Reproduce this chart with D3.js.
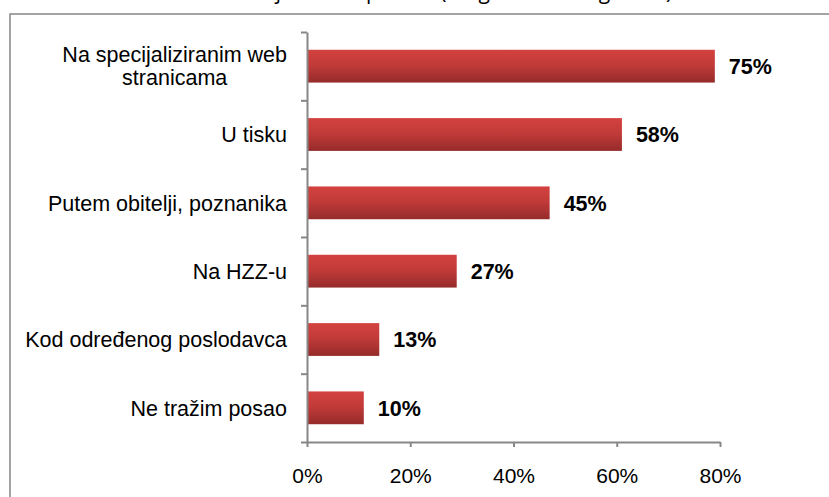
<!DOCTYPE html>
<html>
<head>
<meta charset="utf-8">
<script src="https://cdn.jsdelivr.net/npm/d3@7"></script>
<style>
  body { margin: 0; background: #fff; }
  svg { display: block; font-family: "Liberation Sans", Arial, sans-serif; }
</style>
</head>
<body>
<div id="chart"></div>
<script>
// Data
const categories = [
    ["Na specijaliziranim web", "stranicama"],
    ["U tisku"],
    ["Putem obitelji, poznanika"],
    ["Na HZZ-u"],
    ["Kod određenog poslodavca"],
    ["Ne tražim posao"]
];
// bar lengths as drawn against the axis
const barValues = [79, 61, 47, 29, 14, 11];
// data labels as printed
const labelValues = ["75%", "58%", "45%", "27%", "13%", "10%"];
const xTicks = [0, 20, 40, 60, 80];
const title = "Gdje tražite posao? (moguće više odgovora)";

function drawChart() {
    const W = 829, H = 497;
    const margin = { top: 32, left: 307, right: 109, bottom: 55 };
    const height = H - margin.top - margin.bottom;

    const svg = d3.select("#chart")
        .append("svg")
        .attr("width", W)
        .attr("height", H);

    // gradient for bars
    const grad = svg.append("defs").append("linearGradient")
        .attr("id", "barGrad")
        .attr("x1", 0).attr("y1", 0).attr("x2", 0).attr("y2", 1);
    grad.append("stop").attr("offset", "0%").attr("stop-color", "#d3423f");
    grad.append("stop").attr("offset", "45%").attr("stop-color", "#c23b39");
    grad.append("stop").attr("offset", "100%").attr("stop-color", "#952b2a");

    // Title (cut off at the top edge, as in the original)
    svg.append("text")
        .attr("x", 460)
        .attr("y", -1)
        .attr("text-anchor", "middle")
        .style("font-family", "'Open Sans', sans-serif")
        .style("font-size", "21px")
        .style("fill", "#000")
        .text(title);

    // Outer frame
    svg.append("rect")
        .attr("x", 10)
        .attr("y", 14)
        .attr("width", W)
        .attr("height", H)
        .attr("fill", "none")
        .attr("stroke", "#878787")
        .attr("stroke-width", 1.5);

    const g = svg.append("g")
        .attr("transform", `translate(${margin.left},${margin.top})`);

    const x = d3.scaleLinear()
        .domain([0, 80])
        .range([0, 413]);

    const y = d3.scaleBand()
        .domain(d3.range(categories.length))
        .range([0, height])
        .paddingInner(0.52)
        .paddingOuter(0.26);

    // bars
    g.selectAll("rect.bar")
        .data(barValues)
        .join("rect")
        .attr("class", "bar")
        .attr("x", 0)
        .attr("y", (d, i) => y(i))
        .attr("width", d => x(d))
        .attr("height", y.bandwidth())
        .attr("fill", "url(#barGrad)");

    // data labels
    g.selectAll("text.val")
        .data(barValues)
        .join("text")
        .attr("class", "val")
        .attr("x", d => x(d) + 14)
        .attr("y", (d, i) => y(i) + y.bandwidth() / 2)
        .attr("dy", "0.36em")
        .style("font-size", "21.5px")
        .style("font-weight", "bold")
        .style("fill", "#000")
        .text((d, i) => labelValues[i]);

    // X axis
    const xAxis = g.append("g")
        .attr("transform", `translate(0,${height})`)
        .call(d3.axisBottom(x).tickValues(xTicks).tickFormat(d => d + "%").tickSize(5).tickSizeOuter(0).tickPadding(21));
    xAxis.select(".domain").attr("stroke", "#878787").attr("stroke-width", 2);
    xAxis.selectAll(".tick line").attr("stroke", "#878787").attr("stroke-width", 2);
    xAxis.selectAll(".tick text")
        .style("font-size", "21px")
        .style("font-family", "'Liberation Sans', Arial, sans-serif")
        .attr("fill", "#000");

    // Y axis: ticks at band boundaries
    const step = height / categories.length;
    const yTicks = d3.range(categories.length + 1).map(i => i * step);
    const yScaleLin = d3.scaleLinear().domain([0, height]).range([0, height]);
    const yAxis = g.append("g")
        .call(d3.axisLeft(yScaleLin).tickValues(yTicks).tickFormat("").tickSize(6).tickSizeOuter(0));
    yAxis.select(".domain").attr("stroke", "#878787").attr("stroke-width", 2);
    yAxis.selectAll(".tick line").attr("stroke", "#878787").attr("stroke-width", 2);

    // category labels
    const labels = g.selectAll("text.cat")
        .data(categories)
        .join("text")
        .attr("class", "cat")
        .style("font-size", "21.5px")
        .style("fill", "#000")
        .attr("text-anchor", "end")
        .attr("transform", (d, i) => `translate(-20,${y(i) + y.bandwidth() / 2})`);

    labels.each(function(lines) {
        const t = d3.select(this);
        const lh = 23;
        const y0 = -(lines.length - 1) * lh / 2;
        lines.forEach((line, k) => {
            t.append("tspan")
                .attr("x", 0)
                .attr("y", y0 + k * lh)
                .attr("dy", "0.36em")
                .text(line);
        });
    });

    // centre multi-line labels within their block, block right-aligned
    labels.filter(d => d.length > 1).each(function() {
        const spans = d3.select(this).selectAll("tspan").nodes();
        const widths = spans.map(s => s.getComputedTextLength());
        const maxW = d3.max(widths);
        spans.forEach((s, k) => {
            d3.select(s).attr("x", -(maxW - widths[k]) / 2);
        });
    });
}

if (document.readyState === 'loading') {
    document.addEventListener('DOMContentLoaded', drawChart);
} else {
    drawChart();
}
</script>
</body>
</html>
